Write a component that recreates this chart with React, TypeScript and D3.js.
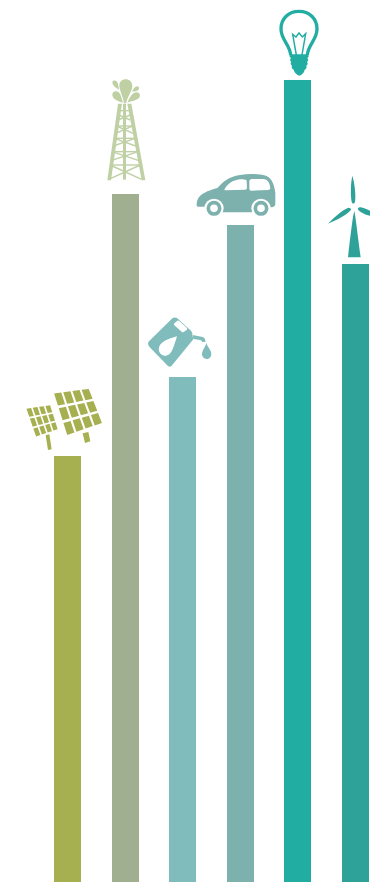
import React from "react";
import * as d3 from "d3";

const W = 370;
const H = 882;

const categories = ["Solar", "Gas", "Oil", "Transport", "Electricity", "Wind"];
const values = [426, 688, 505, 657, 802, 618];
const barColors = ["#a6b051", "#a0af90", "#7fbcbb", "#7cb1ad", "#22ada2", "#2ea298"];
const iconColors = ["#a6b051", "#bfd0a5", "#7fbcbb", "#7cb1ad", "#22ada2", "#2ea298"];

type Pt = [number, number];

// Bilinear position inside a four-cornered panel (TL, TR, BR, BL).
function lerpQuad(q: Pt[], u: number, v: number): Pt {
  const top: Pt = [q[0][0] + (q[1][0] - q[0][0]) * u, q[0][1] + (q[1][1] - q[0][1]) * u];
  const bot: Pt = [q[3][0] + (q[2][0] - q[3][0]) * u, q[3][1] + (q[2][1] - q[3][1]) * u];
  return [top[0] + (bot[0] - top[0]) * v, top[1] + (bot[1] - top[1]) * v];
}

function panelCells(q: Pt[], cols: number, rows: number, gu: number, gv: number): string {
  let out = "";
  for (let r = 0; r < rows; r++) {
    for (let c = 0; c < cols; c++) {
      const u0 = c / cols + gu / 2;
      const u1 = (c + 1) / cols - gu / 2;
      const v0 = r / rows + gv / 2;
      const v1 = (r + 1) / rows - gv / 2;
      const pts = [lerpQuad(q, u0, v0), lerpQuad(q, u1, v0), lerpQuad(q, u1, v1), lerpQuad(q, u0, v1)];
      out += "M" + pts.map((p) => p.join(",")).join("L") + "Z";
    }
  }
  return out;
}

const bigPanel: Pt[] = [[98, 37], [208, 23], [250, 131], [140, 170]];
const smallPanel: Pt[] = [[16, 84], [92, 73], [116, 149], [47, 173]];

function SolarIcon({ fill }: { fill: string }) {
  return (
    <g fill={fill}>
      <path d={panelCells(bigPanel, 4, 3, 0.055, 0.06)} />
      <path d={panelCells(smallPanel, 4, 3, 0.065, 0.06)} />
      <path d="M188,160L205,156L211,184L195,189Z" />
      <path d="M77,166L88,163L95,208L84,210Z" />
    </g>
  );
}

function DerrickIcon({ fill }: { fill: string }) {
  const braces = [
    "M73,122L103,122", "M71,135L106,150", "M106,135L69,150",
    "M66,168L111,168", "M65,168L114,190", "M112,168L62,190",
    "M60,205L119,205", "M58,205L122,228", "M120,205L55,228",
    "M53,245L127,245", "M51,245L132,272", "M129,245L48,272",
    "M47,285L134,285", "M45,285L140,328", "M136,285L41,328",
  ];
  return (
    <g fill={fill}>
      <path d="M69,101L81,101L48,331L37,331Z" />
      <path d="M97,101L109,101L151,331L140,331Z" />
      <path d="M84,101L93,101L93,329L84,329Z" />
      <g stroke={fill} strokeWidth={4.2} fill="none">
        {braces.map((d) => <path key={d} d={d} />)}
      </g>
      <path d="M87,99C83,78 73,60 73,46C73,35 82,28 92,28C103,28 112,36 112,48C112,62 99,78 93,99Z" />
      <path d="M84,98C72,95 54,90 52,76C51,66 60,62 68,65C77,68 79,82 84,98Z" />
      <path d="M97,98C104,84 110,69 123,67C132,66 137,73 134,81C129,91 110,93 97,98Z" />
      <path d="M72,59C63,55 52,46 52,37C52,31 60,30 65,34C69,39 71,50 72,59Z" />
      <path d="M112,65C114,58 120,49 127,49C133,49 134,56 130,60C126,64 118,64 112,65Z" />
    </g>
  );
}

function OilIcon({ fill }: { fill: string }) {
  return (
    <g fill={fill}>
      <path
        fillRule="evenodd"
        d="M27,94L98,24Q105,20 112,25L153,62Q158,67 157,76L160,88L95,167Q89,172 83,167L28,110Q21,102 27,94Z
           M103,40L112,32Q115,30 118,33L141,54Q143,57 140,60L131,66Q128,68 125,65L103,46Q100,43 103,40Z
           M111,79C98,83 70,90 60,105C52,118 58,134 72,137C88,139 95,126 99,115C104,103 107,92 111,79Z"
      />
      <path d="M158,75L188,81Q197,84 196,96L187,96Q186,91 180,90L160,87Z" />
      <path d="M199,98C203,112 214,120 214,132C214,141 207,147 200,147C192,147 186,141 186,133C186,120 196,112 199,98Z" />
    </g>
  );
}

function CarIcon({ fill }: { fill: string }) {
  return (
    <g>
      <path
        fill={fill}
        d="M20,122C20,110 22,100 30,93C40,82 62,75 82,69C98,52 115,35 150,30C175,26 205,26 228,32C245,38 254,60 256,85L256,118Q255,126 245,127L235,127L235,142L50,142L50,125L26,125Q20,125 20,122Z"
      />
      <path fill="#fff" d="M104,72C112,58 128,45 150,43Q168,41 170,47L171,68Q171,74 165,74L108,76Q101,76 104,72Z" />
      <path fill="#fff" d="M178,47Q179,42 186,42L222,42Q231,43 236,52Q241,62 241,70Q240,75 234,75L184,77Q178,77 178,71Z" />
      <circle cx={72} cy={130} r={29} fill="#fff" />
      <circle cx={213} cy={130} r={29} fill="#fff" />
      <circle cx={72} cy={130} r={17} fill="none" stroke={fill} strokeWidth={11} />
      <circle cx={213} cy={130} r={17} fill="none" stroke={fill} strokeWidth={11} />
    </g>
  );
}

function BulbIcon({ fill }: { fill: string }) {
  return (
    <g fill="none" stroke={fill}>
      <path
        strokeWidth={10}
        d="M62,150C60,118 33,105 33,72C33,41 56,19 87,19C118,19 141,41 141,72C141,105 114,118 112,150"
      />
      <path
        strokeWidth={4.4}
        d="M79,150L68,88L78,96L87,84L97,96L107,86L96,150"
      />
      <path
        fill={fill}
        stroke="none"
        d="M60,148L114,148Q119,155 112,160Q118,166 111,171Q116,177 109,182Q112,190 104,194Q102,206 88,212Q74,206 71,194Q63,190 66,182Q59,177 64,171Q57,166 63,160Q56,155 60,148Z"
      />
    </g>
  );
}

function TurbineIcon({ fill }: { fill: string }) {
  return (
    <g fill={fill}>
      <path d="M97,17C104,40 108,75 105,96Q100,106 95,96C91,75 92,40 97,17Z" />
      <path d="M24,161C40,145 65,120 85,113Q93,113 93,120C78,137 50,150 24,161Z" />
      <path d="M113,117Q115,110 122,112C140,116 170,130 190,145C165,142 125,135 113,117Z" />
      <path d="M103,124C106,135 110,170 122,262L84,262C95,170 99,135 103,124Z" />
    </g>
  );
}

// Each icon is authored at 3x in its own frame, then placed relative to the bar it crowns.
const icons = [
  { Icon: SolarIcon, dx: -47.5, dy: -76 },
  { Icon: DerrickIcon, dx: -30.5, dy: -124 },
  { Icon: OilIcon, dx: -42.5, dy: -67 },
  { Icon: CarIcon, dx: -50.5, dy: -60 },
  { Icon: BulbIcon, dx: -27.5, dy: -75 },
  { Icon: TurbineIcon, dx: -35.5, dy: -94 },
];

export default function App() {
  const x = d3.scaleBand<string>().domain(categories).range([54, 369]).paddingInner(0.53).paddingOuter(0);
  const y = d3.scaleLinear().domain([0, H]).range([H, 0]);

  return (
    <svg
      width={W}
      height={H}
      viewBox={`0 0 ${W} ${H}`}
      style={{ position: "absolute", left: 0, top: 0, display: "block" }}
    >
      <rect width={W} height={H} fill="#fff" />
      {categories.map((c, i) => {
        const bx = Math.round(x(c) as number);
        const bw = Math.round(x.bandwidth());
        const top = y(values[i]);
        const { Icon, dx, dy } = icons[i];
        return (
          <g key={c}>
            <rect x={bx} y={top} width={bw} height={y(0) - top} fill={barColors[i]} />
            <g transform={`translate(${bx + bw / 2 + dx},${top + dy}) scale(${1 / 3})`}>
              <Icon fill={iconColors[i]} />
            </g>
          </g>
        );
      })}
    </svg>
  );
}
